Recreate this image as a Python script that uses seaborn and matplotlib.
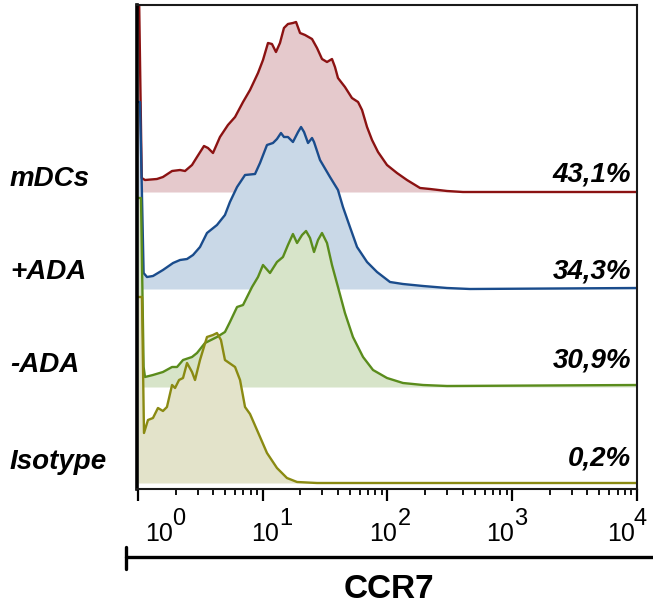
import matplotlib
matplotlib.use("Agg")
import matplotlib.pyplot as plt
import matplotlib.transforms as mtransforms
from matplotlib.lines import Line2D
from matplotlib.ticker import LogLocator, NullFormatter, FixedLocator
import seaborn as sns
import numpy as np
import pandas as pd

# histogram traces: x in log10 decades of CCR7, y = events (arbitrary units)
mdcs_log = [0.0, 0.008, 0.03, 0.056, 0.152, 0.2, 0.273, 0.337, 0.377, 0.433, 0.473, 0.529, 0.561,
            0.601, 0.657, 0.721, 0.778, 0.842, 0.898, 0.962, 1.002, 1.042, 1.074, 1.106, 1.138,
            1.170, 1.202, 1.242, 1.267, 1.299, 1.339, 1.395, 1.435, 1.475, 1.515, 1.555, 1.579,
            1.603, 1.659, 1.715, 1.764, 1.796, 1.836, 1.876, 1.924, 1.996, 2.076, 2.156, 2.261,
            2.341, 2.477, 2.605, 3.0, 4.0]
mdcs_count = [200, 200, 14, 12, 13, 15, 21, 22, 21, 27, 35, 46, 44,
              39, 55, 67, 75, 90, 102, 119, 132, 149, 148, 140, 149,
              164, 168, 169, 170, 159, 157, 153, 144, 133, 130, 133, 125,
              114, 105, 94, 90, 82, 65, 52, 40, 27, 19, 12, 4,
              3, 1, 0, 0, 0]

plus_ada_log = [0.0, 0.016, 0.045, 0.072, 0.120, 0.2, 0.281, 0.337, 0.393, 0.441, 0.497, 0.553,
                0.633, 0.697, 0.737, 0.794, 0.858, 0.938, 0.978, 1.034, 1.082, 1.114, 1.146,
                1.170, 1.202, 1.242, 1.283, 1.307, 1.331, 1.363, 1.395, 1.411, 1.459, 1.539,
                1.603, 1.643, 1.699, 1.756, 1.836, 1.916, 2.020, 2.124, 2.285, 2.477, 2.661, 4.0]
plus_ada_count = [187, 187, 16, 12, 13, 19, 26, 29, 30, 34, 42, 56,
                  64, 74, 87, 102, 114, 115, 126, 144, 146, 150, 156,
                  152, 152, 147, 157, 162, 157, 146, 151, 147, 129, 112,
                  99, 82, 62, 42, 27, 17, 7, 5, 3, 1, 0, 1]

minus_ada_log = [0.0, 0.024, 0.045, 0.056, 0.120, 0.2, 0.273, 0.313, 0.361, 0.433, 0.473, 0.537,
                 0.633, 0.697, 0.737, 0.794, 0.842, 0.914, 0.962, 1.002, 1.058, 1.114, 1.162,
                 1.202, 1.242, 1.275, 1.315, 1.347, 1.379, 1.411, 1.443, 1.475, 1.515, 1.555,
                 1.603, 1.659, 1.723, 1.804, 1.884, 1.996, 2.124, 2.285, 2.477, 4.0]
minus_ada_count = [189, 189, 20, 10, 12, 15, 20, 20, 27, 30, 34, 44,
                   50, 55, 65, 80, 82, 100, 110, 122, 114, 125, 130,
                   142, 153, 144, 152, 156, 149, 135, 147, 154, 144, 122,
                   100, 74, 50, 30, 17, 9, 4, 2, 1, 2]

isotype_log = [0.0, 0.032, 0.048, 0.080, 0.120, 0.160, 0.2, 0.232, 0.273, 0.297, 0.329, 0.361,
               0.393, 0.433, 0.457, 0.497, 0.553, 0.601, 0.633, 0.665, 0.697, 0.778, 0.818,
               0.858, 0.898, 0.954, 1.034, 1.114, 1.194, 1.275, 1.435, 4.0]
isotype_count = [186, 186, 50, 63, 65, 75, 72, 76, 98, 95, 103, 105,
                 120, 111, 103, 123, 146, 148, 150, 143, 123, 116, 103,
                 76, 69, 53, 30, 15, 5, 1, 0, 0]

sample_names = ["mDCs", "+ADA", "-ADA", "Isotype"]
percent_labels = ["43,1%", "34,3%", "30,9%", "0,2%"]
decade_ticks = [0, 1, 2, 3, 4]

traces = [(mdcs_log, mdcs_count), (plus_ada_log, plus_ada_count),
          (minus_ada_log, minus_ada_count), (isotype_log, isotype_count)]

# stacking baselines and colours (layout only)
baselines = [297, 200, 102, 6]
line_colors = ["#8b1212", "#1a4c8c", "#5a8c1c", "#8a8a12"]
fill_colors = ["#e5c9cc", "#c9d8e7", "#d7e4c9", "#e3e3ca"]

sns.set_theme(style="white")
plt.rcParams["font.family"] = ["Liberation Sans", "DejaVu Sans"]
plt.rcParams.update({"text.color": "black", "xtick.color": "black",
                     "xtick.labelcolor": "black", "axes.labelcolor": "black"})

fig = plt.figure(figsize=(6.53, 6.03), dpi=100)
ax = fig.add_axes([137 / 653, 1 - 489 / 603, 500 / 653, 484 / 603])

for (lx, cnt), base, lc, fc in zip(traces, baselines, line_colors, fill_colors):
    df = pd.DataFrame({"ccr7": 10 ** np.array(lx), "events": np.array(cnt) + base})
    ax.fill_between(df["ccr7"], base, df["events"], color=fc, linewidth=0, zorder=1)
    sns.lineplot(data=df, x="ccr7", y="events", ax=ax, color=lc, linewidth=1.7,
                 estimator=None, sort=False, zorder=2)

ax.set_xscale("log")
ax.set_xlim(10 ** -0.008, 1e4)
ax.set_ylim(0, 484)
ax.set_xlabel("")
ax.set_ylabel("")
ax.set_yticks([])

ax.xaxis.set_major_locator(FixedLocator([10.0 ** d for d in decade_ticks]))
ax.xaxis.set_minor_locator(LogLocator(base=10, subs=range(2, 10)))
ax.xaxis.set_minor_formatter(NullFormatter())
ax.set_xticklabels(["10"] * len(decade_ticks), fontsize=18, color="black")
ax.tick_params(axis="x", which="major", direction="out", length=8.5, width=1.6,
               color="black", pad=15, bottom=True)
ax.tick_params(axis="x", which="minor", direction="out", length=4.5, width=1.3,
               color="black", bottom=True)

# nudge the "10" labels like in the original and add the exponents
label_dx_px = [21, 2, -4, -12, -16]
exp_dx_px = [41, 23, 17, 8, 3]
for lab, dx in zip(ax.get_xticklabels(), label_dx_px):
    lab.set_transform(lab.get_transform() +
                      mtransforms.ScaledTranslation(dx / 100, 0, fig.dpi_scale_trans))
for d, dx in zip(decade_ticks, exp_dx_px):
    ax.annotate(str(d), xy=(10.0 ** d, 0), xycoords=("data", "axes fraction"),
                xytext=(dx * 0.72, -30 * 0.72), textcoords="offset points",
                ha="center", va="center", fontsize=17, color="black",
                annotation_clip=False)

for side in ["top", "right", "bottom"]:
    ax.spines[side].set_color("#1a1a1a")
    ax.spines[side].set_linewidth(1.5)
ax.spines["left"].set_color("black")
ax.spines["left"].set_linewidth(2.6)

# sample names and percentages
name_y = [179, 272, 365, 462]
pct_y = [174, 272, 361, 458]
for name, y in zip(sample_names, name_y):
    fig.text(10 / 653, 1 - y / 603, name, fontsize=20, fontweight="bold",
             fontstyle="italic", ha="left", va="center", color="black")
for pct, y in zip(percent_labels, pct_y):
    fig.text(631 / 653, 1 - y / 603, pct, fontsize=20, fontweight="bold",
             fontstyle="italic", ha="right", va="center", color="black")

# CCR7 bracket
fig.add_artist(Line2D([126 / 653, 1.0], [1 - 557 / 603] * 2, color="black", linewidth=2.4))
fig.add_artist(Line2D([126 / 653] * 2, [1 - 547 / 603, 1 - 569 / 603], color="black",
                      linewidth=2.4))
fig.text(389 / 653, 1 - 589 / 603, "CCR7", fontsize=24, fontweight="bold",
         ha="center", va="center", color="black")

fig.savefig("out.png", dpi=100)
